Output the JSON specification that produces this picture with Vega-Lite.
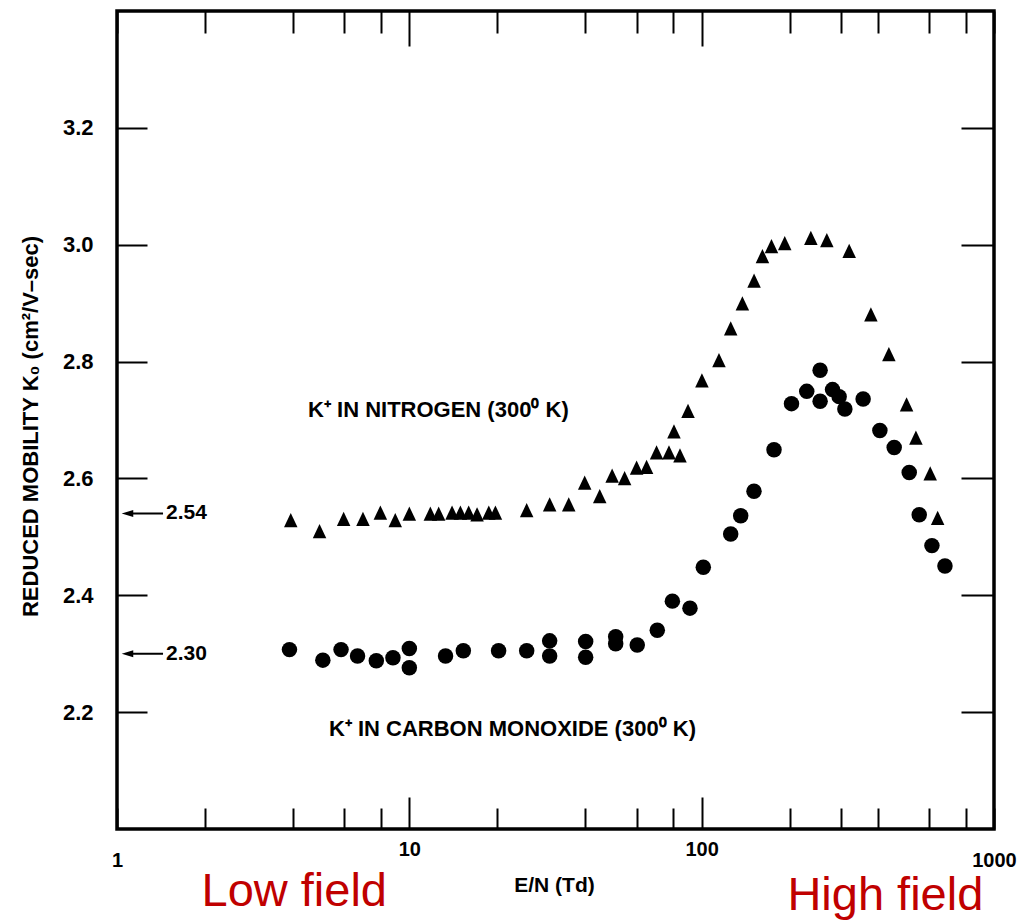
{
  "$schema": "https://vega.github.io/schema/vega-lite/v6.json",
  "autosize": "none",
  "padding": {"left": 117, "top": 11, "right": 35, "bottom": 93},
  "width": 877,
  "height": 818,
  "background": "white",
  "config": {
    "view": {"stroke": "black", "strokeWidth": 3.5},
    "font": "Liberation Sans, Arial, sans-serif"
  },
  "datasets": {
    "pts": [
      {"gas": "N2", "en": 3.93, "k0": 2.528},
      {"gas": "N2", "en": 4.93, "k0": 2.509},
      {"gas": "N2", "en": 5.96, "k0": 2.530},
      {"gas": "N2", "en": 6.94, "k0": 2.530},
      {"gas": "N2", "en": 7.96, "k0": 2.541},
      {"gas": "N2", "en": 8.95, "k0": 2.528},
      {"gas": "N2", "en": 10.0, "k0": 2.539},
      {"gas": "N2", "en": 11.8, "k0": 2.539},
      {"gas": "N2", "en": 12.6, "k0": 2.539},
      {"gas": "N2", "en": 14.0, "k0": 2.541},
      {"gas": "N2", "en": 14.95, "k0": 2.541},
      {"gas": "N2", "en": 15.96, "k0": 2.541},
      {"gas": "N2", "en": 17.05, "k0": 2.538},
      {"gas": "N2", "en": 18.7, "k0": 2.541},
      {"gas": "N2", "en": 19.7, "k0": 2.541},
      {"gas": "N2", "en": 25.2, "k0": 2.545},
      {"gas": "N2", "en": 30.2, "k0": 2.555},
      {"gas": "N2", "en": 35.1, "k0": 2.555},
      {"gas": "N2", "en": 39.8, "k0": 2.592},
      {"gas": "N2", "en": 44.8, "k0": 2.569},
      {"gas": "N2", "en": 49.4, "k0": 2.604},
      {"gas": "N2", "en": 54.5, "k0": 2.600},
      {"gas": "N2", "en": 59.9, "k0": 2.618},
      {"gas": "N2", "en": 64.8, "k0": 2.619},
      {"gas": "N2", "en": 70.1, "k0": 2.644},
      {"gas": "N2", "en": 77.3, "k0": 2.644},
      {"gas": "N2", "en": 80.4, "k0": 2.680},
      {"gas": "N2", "en": 84.3, "k0": 2.639},
      {"gas": "N2", "en": 89.8, "k0": 2.715},
      {"gas": "N2", "en": 100.2, "k0": 2.767},
      {"gas": "N2", "en": 114.6, "k0": 2.802},
      {"gas": "N2", "en": 125.7, "k0": 2.856},
      {"gas": "N2", "en": 137.8, "k0": 2.899},
      {"gas": "N2", "en": 151.1, "k0": 2.938},
      {"gas": "N2", "en": 161.4, "k0": 2.980},
      {"gas": "N2", "en": 173.3, "k0": 2.997},
      {"gas": "N2", "en": 192.4, "k0": 3.002},
      {"gas": "N2", "en": 236.3, "k0": 3.011},
      {"gas": "N2", "en": 268, "k0": 3.007},
      {"gas": "N2", "en": 319.6, "k0": 2.989},
      {"gas": "N2", "en": 379.2, "k0": 2.880},
      {"gas": "N2", "en": 436.9, "k0": 2.812},
      {"gas": "N2", "en": 502.3, "k0": 2.726},
      {"gas": "N2", "en": 540.6, "k0": 2.669},
      {"gas": "N2", "en": 605, "k0": 2.608},
      {"gas": "N2", "en": 641.6, "k0": 2.532},
      {"gas": "CO", "en": 3.89, "k0": 2.307},
      {"gas": "CO", "en": 5.06, "k0": 2.289},
      {"gas": "CO", "en": 5.84, "k0": 2.307},
      {"gas": "CO", "en": 6.65, "k0": 2.296},
      {"gas": "CO", "en": 7.71, "k0": 2.288},
      {"gas": "CO", "en": 8.79, "k0": 2.293},
      {"gas": "CO", "en": 10.0, "k0": 2.309},
      {"gas": "CO", "en": 10.0, "k0": 2.276},
      {"gas": "CO", "en": 13.3, "k0": 2.296},
      {"gas": "CO", "en": 15.3, "k0": 2.305},
      {"gas": "CO", "en": 20.2, "k0": 2.305},
      {"gas": "CO", "en": 25.2, "k0": 2.305},
      {"gas": "CO", "en": 30.2, "k0": 2.322},
      {"gas": "CO", "en": 30.2, "k0": 2.296},
      {"gas": "CO", "en": 40.1, "k0": 2.321},
      {"gas": "CO", "en": 40.1, "k0": 2.294},
      {"gas": "CO", "en": 50.8, "k0": 2.329},
      {"gas": "CO", "en": 50.8, "k0": 2.317},
      {"gas": "CO", "en": 60.2, "k0": 2.315},
      {"gas": "CO", "en": 70.5, "k0": 2.340},
      {"gas": "CO", "en": 79.4, "k0": 2.390},
      {"gas": "CO", "en": 91.2, "k0": 2.378},
      {"gas": "CO", "en": 101.3, "k0": 2.448},
      {"gas": "CO", "en": 125.7, "k0": 2.505},
      {"gas": "CO", "en": 136, "k0": 2.536},
      {"gas": "CO", "en": 151, "k0": 2.578},
      {"gas": "CO", "en": 176.8, "k0": 2.649},
      {"gas": "CO", "en": 202.9, "k0": 2.728},
      {"gas": "CO", "en": 228.8, "k0": 2.749},
      {"gas": "CO", "en": 254.2, "k0": 2.785},
      {"gas": "CO", "en": 254.2, "k0": 2.732},
      {"gas": "CO", "en": 280.3, "k0": 2.752},
      {"gas": "CO", "en": 295.3, "k0": 2.740},
      {"gas": "CO", "en": 308.9, "k0": 2.719},
      {"gas": "CO", "en": 356.7, "k0": 2.736},
      {"gas": "CO", "en": 407, "k0": 2.682},
      {"gas": "CO", "en": 455.6, "k0": 2.653},
      {"gas": "CO", "en": 512.9, "k0": 2.610},
      {"gas": "CO", "en": 554.9, "k0": 2.538},
      {"gas": "CO", "en": 613.3, "k0": 2.485},
      {"gas": "CO", "en": 679.6, "k0": 2.450}
    ],
    "notes": [
      {"en": 12.57, "k0": 2.717, "text": "K⁺ IN NITROGEN (300⁰ K)"},
      {"en": 22.53, "k0": 2.171, "text": "K⁺ IN CARBON MONOXIDE (300⁰ K)"}
    ],
    "fields": [
      {"en": 4.04, "k0": 1.868, "text": "Low field"},
      {"en": 425, "k0": 1.861, "text": "High field"}
    ],
    "marks": [
      {"k0": 2.54, "text": "2.54"},
      {"k0": 2.30, "text": "2.30"}
    ]
  },
  "layer": [
    {
      "data": {"name": "pts"},
      "transform": [{"filter": "datum.gas === 'N2'"}],
      "mark": {"type": "point", "filled": true, "opacity": 1, "color": "black", "strokeWidth": 0, "shape": "M0,-1L-0.9,0.9L0.9,0.9Z", "size": 225},
      "encoding": {
        "x": {
          "field": "en", "type": "quantitative",
          "scale": {"type": "log", "domain": [1, 1000], "nice": false},
          "axis": {
            "orient": "bottom",
            "values": [1, 2, 4, 6, 8, 10, 20, 40, 60, 80, 100, 200, 300, 400, 600, 800, 1000],
            "labelExpr": "(datum.value == 1 || datum.value == 10 || datum.value == 100 || datum.value == 1000) ? format(datum.value, 'd') : ''",
            "tickSize": {"condition": {"test": "datum.value == 10 || datum.value == 100", "value": -32}, "value": -21},
            "tickColor": "black", "tickWidth": 2, "domain": false, "grid": false,
            "labelFont": "Liberation Sans, Arial, sans-serif",
            "labelFontWeight": "bold", "labelFontSize": 20, "labelColor": "black",
            "labelPadding": 42, "labelFlush": false, "labelOverlap": false,
            "title": "E/N (Td)",
            "titleFont": "Liberation Sans, Arial, sans-serif",
            "titleFontSize": 21, "titleFontWeight": "bold", "titleColor": "black",
            "titleX": 437, "titleY": 56, "titleAlign": "center", "titleBaseline": "middle"
          }
        },
        "y": {
          "field": "k0", "type": "quantitative",
          "scale": {"domain": [2.0, 3.4], "nice": false, "zero": false},
          "axis": {
            "orient": "left",
            "values": [2.2, 2.4, 2.6, 2.8, 3.0, 3.2],
            "format": ".1f",
            "tickSize": -30, "tickColor": "black", "tickWidth": 2, "domain": false, "grid": false,
            "labelFont": "Liberation Sans, Arial, sans-serif",
            "labelFontWeight": "bold", "labelFontSize": 22, "labelColor": "black",
            "labelPadding": 54,
            "title": "REDUCED MOBILITY K₀ (cm²/V–sec)",
            "titleFont": "Liberation Sans, Arial, sans-serif",
            "titleFontSize": 22, "titleFontWeight": "bold", "titleColor": "black",
            "titleX": -87, "titleY": 415, "titleAngle": 270, "titleAlign": "center", "titleBaseline": "middle"
          }
        }
      }
    },
    {
      "data": {"name": "pts"},
      "transform": [{"filter": "datum.gas === 'CO'"}],
      "mark": {"type": "point", "filled": true, "opacity": 1, "color": "black", "strokeWidth": 0, "shape": "circle", "size": 240},
      "encoding": {
        "x": {
          "field": "en", "type": "quantitative",
          "scale": {"type": "log", "domain": [1, 1000], "nice": false},
          "axis": {
            "orient": "top",
            "values": [1, 2, 4, 6, 8, 10, 20, 40, 60, 80, 100, 200, 300, 400, 600, 800, 1000],
            "labels": false, "title": null,
            "tickSize": {"condition": {"test": "datum.value == 10 || datum.value == 100", "value": -35}, "value": -22},
            "tickColor": "black", "tickWidth": 2, "domain": false, "grid": false
          }
        },
        "y": {
          "field": "k0", "type": "quantitative",
          "scale": {"domain": [2.0, 3.4], "nice": false, "zero": false},
          "axis": {
            "orient": "right",
            "values": [2.2, 2.4, 2.6, 2.8, 3.0, 3.2],
            "labels": false, "title": null,
            "tickSize": -33, "tickColor": "black", "tickWidth": 2, "domain": false, "grid": false
          }
        }
      }
    },
    {
      "data": {"name": "notes"},
      "mark": {"type": "text", "font": "Liberation Sans, Arial, sans-serif", "fontWeight": "bold", "fontSize": 22, "color": "black", "align": "center", "baseline": "middle"},
      "encoding": {
        "x": {"field": "en", "type": "quantitative", "scale": {"type": "log", "domain": [1, 1000], "nice": false}, "axis": null},
        "y": {"field": "k0", "type": "quantitative", "scale": {"domain": [2.0, 3.4], "nice": false, "zero": false}, "axis": null},
        "text": {"field": "text"}
      }
    },
    {
      "data": {"name": "fields"},
      "mark": {"type": "text", "font": "Liberation Sans, Arial, sans-serif", "fontSize": 47, "color": "#c00000", "align": "center", "baseline": "alphabetic"},
      "encoding": {
        "x": {"field": "en", "type": "quantitative", "scale": {"type": "log", "domain": [1, 1000], "nice": false}, "axis": null},
        "y": {"field": "k0", "type": "quantitative", "scale": {"domain": [2.0, 3.4], "nice": false, "zero": false}, "axis": null},
        "text": {"field": "text"}
      }
    },
    {
      "data": {"name": "marks"},
      "mark": {"type": "rule", "color": "black", "strokeWidth": 2},
      "encoding": {
        "x": {"datum": 1.09, "type": "quantitative", "scale": {"type": "log", "domain": [1, 1000], "nice": false}, "axis": null},
        "x2": {"datum": 1.437},
        "y": {"field": "k0", "type": "quantitative", "scale": {"domain": [2.0, 3.4], "nice": false, "zero": false}, "axis": null}
      }
    },
    {
      "data": {"name": "marks"},
      "mark": {"type": "point", "filled": true, "opacity": 1, "color": "black", "strokeWidth": 0, "shape": "M-1,0L1,-0.6L1,0.6Z", "size": 134},
      "encoding": {
        "x": {"datum": 1.086, "type": "quantitative", "scale": {"type": "log", "domain": [1, 1000], "nice": false}, "axis": null},
        "y": {"field": "k0", "type": "quantitative", "scale": {"domain": [2.0, 3.4], "nice": false, "zero": false}, "axis": null}
      }
    },
    {
      "data": {"name": "marks"},
      "mark": {"type": "text", "font": "Liberation Sans, Arial, sans-serif", "fontWeight": "bold", "fontSize": 21, "color": "black", "align": "left", "baseline": "middle"},
      "encoding": {
        "x": {"datum": 1.472, "type": "quantitative", "scale": {"type": "log", "domain": [1, 1000], "nice": false}, "axis": null},
        "y": {"field": "k0", "type": "quantitative", "scale": {"domain": [2.0, 3.4], "nice": false, "zero": false}, "axis": null},
        "text": {"field": "text"}
      }
    }
  ],
  "resolve": {"axis": {"x": "independent", "y": "independent"}}
}
